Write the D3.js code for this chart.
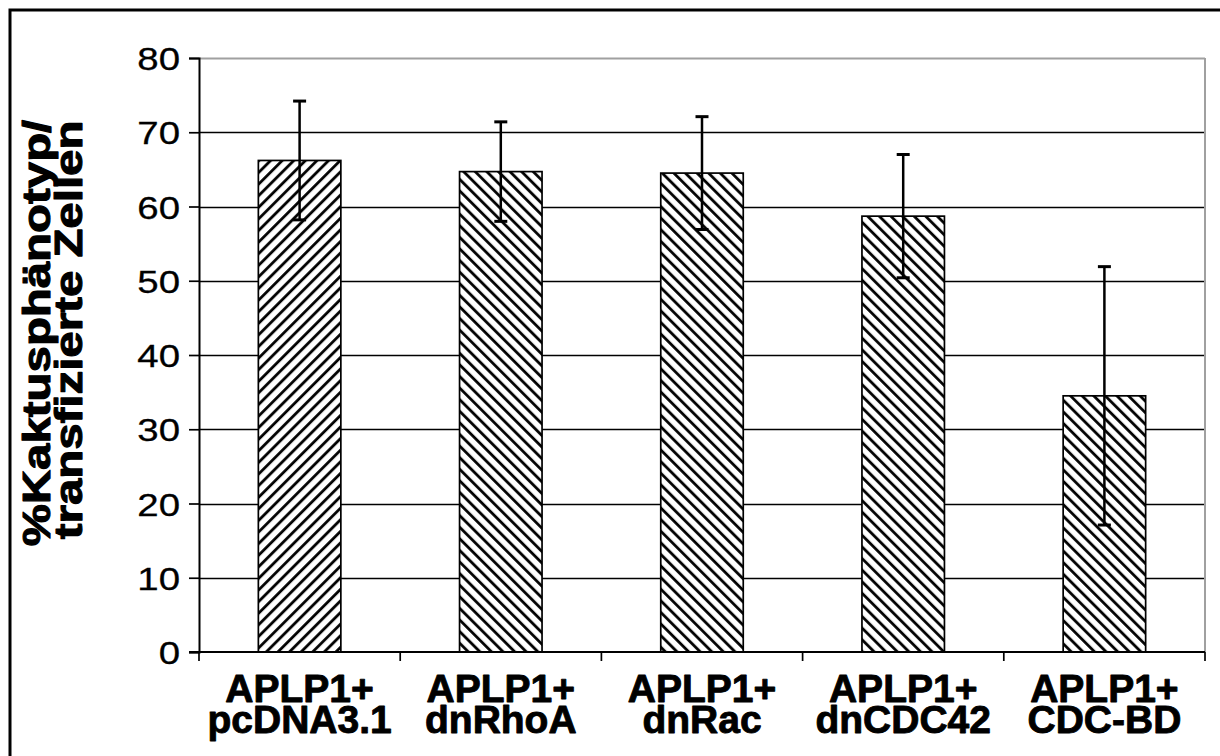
<!DOCTYPE html>
<html>
<head>
<meta charset="utf-8">
<script src="https://cdn.jsdelivr.net/npm/d3@7"></script>
<style>
  html, body { margin: 0; padding: 0; background: #fff; }
  svg { display: block; }
</style>
</head>
<body>
<svg id="chart" width="1220" height="756"></svg>
<script>
// Categories (two-line labels), means and error (SD) values
const categories = ["APLP1+|pcDNA3.1", "APLP1+|dnRhoA", "APLP1+|dnRac", "APLP1+|dnCDC42", "APLP1+|CDC-BD"];
const means = [66.2, 64.7, 64.5, 58.7, 34.5];
const errors = [8.0, 6.7, 7.6, 8.3, 17.4];
const hatchDirections = ["fwd", "back", "back", "back", "back"];
const yTicks = [0, 10, 20, 30, 40, 50, 60, 70, 80];
const yLabelLines = ["%Kaktusphänotyp/", "transfizierte Zellen"];

const svg = d3.select("#chart");
const W = 1220, H = 756;
const plot = { left: 199, right: 1205, top: 58, bottom: 652 };
const FONT = "Liberation Sans, Arial, Helvetica, sans-serif";

svg.append("rect").attr("width", W).attr("height", H).attr("fill", "#fff");

// Outer frame (left and top edges visible)
svg.append("path")
  .attr("d", `M10,${H} L10,10 L${W},10`)
  .attr("fill", "none").attr("stroke", "#000").attr("stroke-width", 3);

const x = d3.scaleBand().domain(categories).range([plot.left, plot.right]).paddingInner(0).paddingOuter(0);
const y = d3.scaleLinear().domain([0, 80]).range([plot.bottom, plot.top]);

// Hatch patterns
const defs = svg.append("defs");
function hatch(id, angle) {
  const s = 8.2;
  const p = defs.append("pattern")
    .attr("id", id).attr("patternUnits", "userSpaceOnUse")
    .attr("width", s).attr("height", s)
    .attr("patternTransform", `rotate(${angle})`);
  p.append("rect").attr("width", s).attr("height", s).attr("fill", "#fff");
  p.append("line").attr("x1", 1.5).attr("y1", 0).attr("x2", 1.5).attr("y2", s)
    .attr("stroke", "#000").attr("stroke-width", 2.8);
}
hatch("hatch-fwd", 45);
hatch("hatch-back", -45);

// Gridlines
svg.append("g").selectAll("line").data(yTicks.filter(t => t > 0))
  .join("line")
  .attr("x1", plot.left).attr("x2", plot.right)
  .attr("y1", d => Math.round(y(d)) + 0.5).attr("y2", d => Math.round(y(d)) + 0.5)
  .attr("stroke", d => d === 80 ? "#a0a0a0" : "#000")
  .attr("stroke-width", d => d === 80 ? 2 : 1.7);

// Right border of plot area
svg.append("line")
  .attr("x1", plot.right).attr("x2", plot.right)
  .attr("y1", y(80)).attr("y2", y(0))
  .attr("stroke", "#a0a0a0").attr("stroke-width", 2);

// Bars
const barW = x.bandwidth() * 0.41;
svg.append("g").selectAll("rect").data(categories)
  .join("rect")
  .attr("x", d => x(d) + (x.bandwidth() - barW) / 2)
  .attr("width", barW)
  .attr("y", (d, i) => y(means[i]))
  .attr("height", (d, i) => y(0) - y(means[i]))
  .attr("fill", (d, i) => `url(#hatch-${hatchDirections[i]})`)
  .attr("stroke", "#000").attr("stroke-width", 1.7);

// Error bars
const eb = svg.append("g").attr("stroke", "#000").attr("stroke-width", 2.5);
categories.forEach((c, i) => {
  const cx = x(c) + x.bandwidth() / 2;
  const hi = y(means[i] + errors[i]), lo = y(means[i] - errors[i]);
  eb.append("line").attr("x1", cx).attr("x2", cx).attr("y1", hi).attr("y2", lo);
  eb.append("line").attr("x1", cx - 6.5).attr("x2", cx + 6.5).attr("y1", hi).attr("y2", hi).attr("stroke-width", 3);
  eb.append("line").attr("x1", cx - 6.5).attr("x2", cx + 6.5).attr("y1", lo).attr("y2", lo).attr("stroke-width", 3);
});

// Y axis
const yAxis = d3.axisLeft(y).tickValues(yTicks).tickSize(10).tickPadding(8).tickFormat(d3.format("d"));
const gy = svg.append("g").attr("transform", `translate(${plot.left},0)`).call(yAxis);
gy.select(".domain").attr("stroke", "#000").attr("stroke-width", 2);
gy.selectAll(".tick line").attr("stroke", "#000").attr("stroke-width", 1.7);
gy.selectAll(".tick text")
  .attr("font-family", FONT)
  .attr("font-size", 32).attr("fill", "#000")
  .attr("stroke", "#000").attr("stroke-width", 0.3)
  .attr("x", -19 / 1.2).attr("dy", "0.36em")
  .attr("transform", "scale(1.2,1)");

// X axis: ticks at category boundaries
const gx = svg.append("g").attr("transform", `translate(0,${plot.bottom})`);
gx.append("line").attr("x1", plot.left - 10).attr("x2", plot.right)
  .attr("y1", 0).attr("y2", 0).attr("stroke", "#000").attr("stroke-width", 2);
const bounds = categories.map(c => x(c)).concat([plot.right]);
gx.selectAll("line.tk").data(bounds).join("line").attr("class", "tk")
  .attr("x1", d => d).attr("x2", d => d).attr("y1", 0).attr("y2", 9)
  .attr("stroke", "#000").attr("stroke-width", 1.7);

// Category labels (two lines each)
categories.forEach(c => {
  const parts = c.split("|");
  const cx = x(c) + x.bandwidth() / 2;
  parts.forEach((p, k) => {
    gx.append("text")
      .attr("x", cx).attr("y", 50 + k * 31)
      .attr("text-anchor", "middle")
      .attr("font-family", FONT)
      .attr("font-weight", "bold").attr("font-size", 39).attr("fill", "#000")
      .attr("stroke", "#000").attr("stroke-width", 0.9).attr("stroke-linejoin", "round")
      .text(p);
  });
});

// Y axis title (two lines, rotated)
const yt = svg.append("g")
  .attr("transform", "translate(0,333) rotate(-90) scale(1,0.82)");
yLabelLines.forEach((line, k) => {
  yt.append("text")
    .attr("x", k === 0 ? 0 : 3).attr("y", k === 0 ? 61 : 100)
    .attr("text-anchor", "middle")
    .attr("font-family", FONT)
    .attr("font-weight", "bold").attr("font-size", 47.4).attr("fill", "#000")
    .attr("stroke", "#000").attr("stroke-width", 1.3).attr("stroke-linejoin", "round")
    .text(line);
});
</script>
</body>
</html>
